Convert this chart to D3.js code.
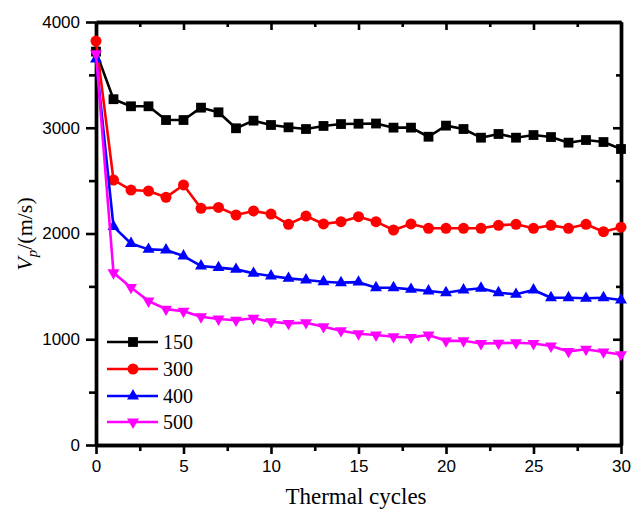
<!DOCTYPE html>
<html>
<head>
<meta charset="utf-8">
<script src="https://cdn.jsdelivr.net/npm/d3@7"></script>
<style>
  html, body { margin: 0; padding: 0; background: #fff; }
  svg { display: block; }
</style>
</head>
<body>
<svg id="chart" width="631" height="509"></svg>
<script>
// Thermal cycle counts (x) and P-wave velocity (m/s) for each treatment temperature
const cycles = d3.range(0, 31);
const v150 = [3720, 3270, 3203, 3203, 3073, 3073, 3190, 3146, 2995, 3067, 3026, 3004, 2988, 3017, 3035, 3038,
              3040, 3001, 3001, 2915, 3020, 2988, 2906, 2941, 2906, 2931, 2912, 2859, 2884, 2865, 2799];
const v300 = [3820, 2506, 2411, 2402, 2342, 2459, 2238, 2247, 2175, 2213, 2184, 2087, 2165, 2090, 2112, 2159,
              2112, 2033, 2090, 2049, 2049, 2049, 2049, 2077, 2087, 2049, 2077, 2049, 2087, 2017, 2060];
const v400 = [3650, 2065, 1906, 1850, 1844, 1787, 1693, 1677, 1661, 1623, 1598, 1576, 1560, 1544, 1535, 1540,
              1487, 1487, 1472, 1456, 1440, 1466, 1482, 1440, 1425, 1466, 1393, 1393, 1387, 1393, 1371];
const v500 = [3700, 1629, 1490, 1362, 1285, 1265, 1213, 1191, 1180, 1198, 1166, 1150, 1157, 1119, 1081, 1052,
              1040, 1024, 1018, 1040, 985, 986, 960, 962, 967, 960, 936, 885, 905, 880, 855];
const seriesNames = ["150", "300", "400", "500"];
const seriesColors = ["#000000", "#ff0000", "#0000ff", "#ff00ff"];
const seriesShapes = ["square", "circle", "triangleUp", "triangleDown"];
const xTicks = [0, 5, 10, 15, 20, 25, 30];
const xMinor = [2.5, 7.5, 12.5, 17.5, 22.5, 27.5];
const yTicks = [0, 1000, 2000, 3000, 4000];
const yMinor = [500, 1500, 2500, 3500];

const svg = d3.select("#chart");
const plotL = 96, plotR = 621, plotT = 22, plotB = 445;
const x = d3.scaleLinear().domain([0, 30]).range([plotL, plotR]);
const y = d3.scaleLinear().domain([0, 4000]).range([plotB, plotT]);

const tickFont = "'Liberation Sans', Arial, sans-serif";
const serif = "'Liberation Serif', 'Times New Roman', serif";

// Frame: four axes, major + minor ticks; left/bottom outward, top/right inward
function styleAxis(g) {
  g.selectAll(".domain").attr("stroke", "#000").attr("stroke-width", 3.4);
  g.selectAll(".tick line").attr("stroke", "#000").attr("stroke-width", 2.6);
  g.selectAll("text").attr("font-family", tickFont).attr("font-size", 17).attr("fill", "#000");
}

// minor ticks first
svg.append("g").attr("transform", `translate(0,${plotB})`)
  .call(d3.axisBottom(x).tickValues(xMinor).tickSizeInner(6).tickSizeOuter(0).tickFormat(""))
  .call(styleAxis);
svg.append("g").attr("transform", `translate(0,${plotT})`)
  .call(d3.axisTop(x).tickValues(xMinor).tickSizeInner(-5).tickSizeOuter(0).tickFormat(""))
  .call(styleAxis);
svg.append("g").attr("transform", `translate(${plotL},0)`)
  .call(d3.axisLeft(y).tickValues(yMinor).tickSizeInner(7).tickSizeOuter(0).tickFormat(""))
  .call(styleAxis);
svg.append("g").attr("transform", `translate(${plotR},0)`)
  .call(d3.axisRight(y).tickValues(yMinor).tickSizeInner(-5).tickSizeOuter(0).tickFormat(""))
  .call(styleAxis);

// major ticks with labels
svg.append("g").attr("transform", `translate(0,${plotB})`)
  .call(d3.axisBottom(x).tickValues(xTicks).tickSizeInner(9).tickSizeOuter(0).tickPadding(6).tickFormat(d3.format("d")))
  .call(styleAxis);
svg.append("g").attr("transform", `translate(0,${plotT})`)
  .call(d3.axisTop(x).tickValues(xTicks).tickSizeInner(-8).tickSizeOuter(0).tickFormat(""))
  .call(styleAxis);
svg.append("g").attr("transform", `translate(${plotL},0)`)
  .call(d3.axisLeft(y).tickValues(yTicks).tickSizeInner(10).tickSizeOuter(0).tickPadding(6).tickFormat(d3.format("d")))
  .call(styleAxis);
svg.append("g").attr("transform", `translate(${plotR},0)`)
  .call(d3.axisRight(y).tickValues(yTicks).tickSizeInner(-8).tickSizeOuter(0).tickFormat(""))
  .call(styleAxis);

// Marker shapes
function symbolPath(shape) {
  if (shape === "square") return d3.symbol(d3.symbolSquare, 96)();
  if (shape === "circle") return d3.symbol(d3.symbolCircle, 95)();
  return d3.symbol(d3.symbolTriangle, 62)();
}
function markerTransform(shape, cx, cy) {
  return shape === "triangleDown" ? `translate(${cx},${cy}) rotate(180)` : `translate(${cx},${cy})`;
}

const allSeries = [v150, v300, v400, v500];
const line = d3.line().x((d, i) => x(cycles[i])).y(d => y(d));

allSeries.forEach((vals, k) => {
  const g = svg.append("g").attr("class", "series-" + seriesNames[k]);
  g.append("path").datum(vals)
    .attr("d", line)
    .attr("fill", "none")
    .attr("stroke", seriesColors[k])
    .attr("stroke-width", 2.6)
    .attr("stroke-linejoin", "round");
  g.selectAll("path.mk").data(vals).enter().append("path")
    .attr("class", "mk")
    .attr("d", symbolPath(seriesShapes[k]))
    .attr("transform", (d, i) => markerTransform(seriesShapes[k], x(cycles[i]), y(d)))
    .attr("fill", seriesColors[k]);
});

// Legend
const legendRows = [342, 369, 396, 422];
seriesNames.forEach((name, k) => {
  const ly = legendRows[k];
  const g = svg.append("g");
  g.append("line").attr("x1", 107).attr("x2", 158).attr("y1", ly).attr("y2", ly)
    .attr("stroke", seriesColors[k]).attr("stroke-width", 2.6);
  g.append("path").attr("d", symbolPath(seriesShapes[k]))
    .attr("transform", markerTransform(seriesShapes[k], 133, ly))
    .attr("fill", seriesColors[k]);
  g.append("text").attr("x", 163).attr("y", ly + 7)
    .attr("font-family", serif).attr("font-size", 20).attr("fill", "#000")
    .text(name);
});

// Axis titles
svg.append("text")
  .attr("x", 356).attr("y", 503.5)
  .attr("text-anchor", "middle")
  .attr("font-family", serif).attr("font-size", 23).attr("fill", "#000")
  .text("Thermal cycles");

const yt = svg.append("text")
  .attr("transform", "translate(32,234) rotate(-90)")
  .attr("text-anchor", "middle")
  .attr("font-family", serif).attr("font-size", 22).attr("fill", "#000");
yt.append("tspan").attr("font-style", "italic").text("V");
yt.append("tspan").attr("font-style", "italic").attr("font-size", 15).attr("dy", 5).text("p");
yt.append("tspan").attr("dy", -5).text("/(m/s)");
</script>
</body>
</html>
